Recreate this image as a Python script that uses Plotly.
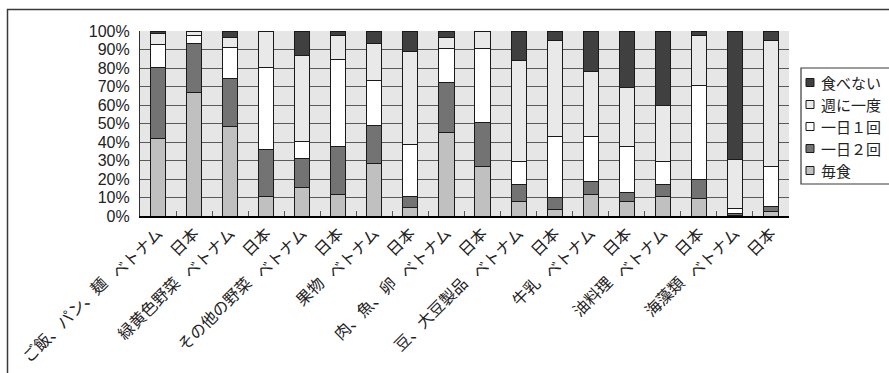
import plotly.graph_objects as go

# Food groups (each has a Vietnam bar and a Japan bar)
groups = ["ご飯、パン、麺", "緑黄色野菜", "その他の野菜", "果物", "肉、魚、卵",
          "豆、大豆製品", "牛乳", "油料理", "海藻類"]
countries = ["ベトナム", "日本"]

# Share of respondents (%) by eating frequency, bottom to top of each stack
maishoku = [42, 67, 48.6, 10.5, 15.5, 11.5, 28.5, 4.7, 45.4, 26.8, 8.1, 3.6, 11.5, 7.7, 10.5, 9.7, 0.5, 2.2]
ichinichi_2 = [38.5, 26, 25.6, 25.4, 15.7, 26.2, 20.3, 5.8, 26.7, 23.8, 8.7, 6.3, 7.1, 4.9, 6.3, 9.8, 0.6, 2.8]
ichinichi_1 = [12, 4.5, 17, 44.6, 9.2, 46.8, 24.4, 28.2, 18.2, 40.2, 12.9, 33, 24.5, 25.1, 12.9, 51.3, 3, 22]
shu_ichido = [6.2, 2.5, 5.2, 19.5, 46.1, 13, 20.3, 50.3, 6.1, 9.2, 54.1, 51.9, 35.1, 31.7, 30.3, 26.7, 26.4, 67.6]
tabenai = [1.3, 0, 3.6, 0, 13.5, 2.5, 6.5, 11, 3.6, 0, 16.2, 5.2, 21.8, 30.6, 40, 2.5, 69.5, 5.4]

y_tick_vals = list(range(0, 101, 10))
y_tick_text = [f"{v}%" for v in y_tick_vals]

series = [
    ("毎食", maishoku, "#c0c0c0"),
    ("一日２回", ichinichi_2, "#737373"),
    ("一日１回", ichinichi_1, "#ffffff"),
    ("週に一度", shu_ichido, "#e9e9e9"),
    ("食べない", tabenai, "#404040"),
]

tick_text = [c for g in groups for c in countries]
xs = list(range(1, len(tick_text) + 1))

# plot-area geometry in pixels
W, H = 889, 373
L, R, T, B = 140, 789, 31, 216
pw, ph = R - L, B - T


def px(x):
    return (x - L) / pw


def py(y):
    return (B - y) / ph


fig = go.Figure()
for name, vals, col in series:
    fig.add_trace(go.Bar(
        x=xs, y=vals, name=name, width=0.42,
        marker=dict(color=col, line=dict(color="#1a1a1a", width=1)),
        showlegend=False,
    ))

font_jp = "Noto Sans CJK JP, Liberation Sans, sans-serif"
font_num = "Liberation Sans, Arial, sans-serif"

shapes = []
annotations = []

# 50% reference line in black
shapes.append(dict(type="line", xref="paper", yref="y", x0=0, x1=1, y0=50, y1=50,
                   line=dict(color="#000000", width=1.2), layer="below"))

# outer frame
shapes.append(dict(type="rect", xref="paper", yref="paper",
                   x0=px(7.5), x1=px(W + 20), y0=py(H + 20), y1=py(9.5),
                   line=dict(color="#3a3a3a", width=1.5), fillcolor="rgba(0,0,0,0)",
                   layer="below"))

# group labels under each pair of bars
for i, g in enumerate(groups):
    cx = L + (2 * i + 1) * pw / len(xs)  # boundary between the pair
    annotations.append(dict(
        text=g, xref="paper", yref="paper", x=px(cx - 61), y=py(268),
        xanchor="right", yanchor="top", textangle=-45, showarrow=False,
        font=dict(family=font_jp, size=16, color="#222222"),
    ))

# legend box with swatches, top to bottom
shapes.append(dict(type="rect", xref="paper", yref="paper",
                   x0=px(801), x1=px(W + 20), y0=py(184), y1=py(68),
                   line=dict(color="#3a3a3a", width=1.2), fillcolor="#ffffff"))
row_y = [82.5, 104.5, 126.5, 148.5, 170.5]
legend_rows = list(reversed(series))
for (name, vals, col), yy in zip(legend_rows, row_y):
    shapes.append(dict(type="rect", xref="paper", yref="paper",
                       x0=px(806), x1=px(814), y0=py(yy + 4), y1=py(yy - 4),
                       line=dict(color="#1a1a1a", width=1), fillcolor=col))
    annotations.append(dict(
        text=name, xref="paper", yref="paper", x=px(820), y=py(yy),
        xanchor="left", yanchor="middle", showarrow=False, borderpad=0,
        font=dict(family=font_jp, size=15, color="#222222"),
    ))

fig.update_layout(
    width=W, height=H,
    margin=dict(l=L, r=W - R, t=T, b=H - B, pad=0),
    barmode="stack",
    paper_bgcolor="#ffffff",
    plot_bgcolor="#e6e6e6",
    shapes=shapes,
    annotations=annotations,
    showlegend=False,
)

fig.update_xaxes(
    range=[0.5, len(xs) + 0.5],
    tickvals=xs, ticktext=tick_text, tickangle=-45,
    ticks="", showgrid=False, zeroline=False,
    showline=True, linecolor="#000000", linewidth=1.5,
    tickfont=dict(family=font_jp, size=16, color="#222222"),
    minor=dict(tickvals=[x + 0.5 for x in xs[:-1]], ticks="inside", ticklen=5,
               tickcolor="#555555", tickwidth=1, showgrid=False),
)
fig.update_yaxes(
    range=[0, 100], tickvals=y_tick_vals, ticktext=y_tick_text,
    ticks="", showgrid=True, gridcolor="#5a5a5a", gridwidth=1,
    zeroline=False, showline=True, linecolor="#333333", linewidth=1.2,
    ticklabelstandoff=6,
    tickfont=dict(family=font_num, size=16, color="#222222"),
)

fig.write_html("out.html")
